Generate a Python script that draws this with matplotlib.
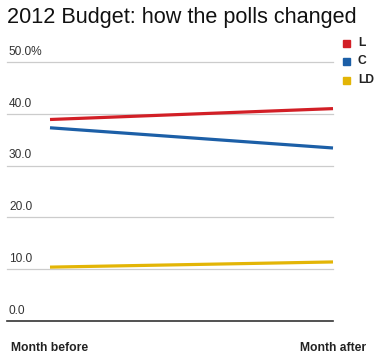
import matplotlib
matplotlib.use("Agg")
import matplotlib.pyplot as plt
import matplotlib.transforms as mtransforms

plt.rcParams["font.family"] = ["Liberation Sans", "DejaVu Sans"]

# Poll data (percent)
periods = ["Month before", "Month after"]
parties = ["L", "C", "LD"]
colors = ["#d21f26", "#1c5fa7", "#e3b506"]
values = {
    "L": [38.9, 41.0],
    "C": [37.3, 33.4],
    "LD": [10.4, 11.4],
}
yticks = [0, 10, 20, 30, 40, 50]
ytick_labels = ["0.0", "10.0", "20.0", "30.0", "40.0", "50.0%"]

W, H = 387, 355
fig = plt.figure(figsize=(W / 100, H / 100), dpi=100)

# axes placed in pixel terms: x 7..333, y 62..321 (from top)
ax = fig.add_axes([7 / W, (H - 321) / H, 326 / W, 259 / H])
ax.set_xlim(-43 / 283, 1.0)
ax.set_ylim(0, 50)
ax.axis("off")

xs = [0, 1]

# gridlines
for t in yticks:
    if t == 0:
        ax.axhline(t, color="#333333", lw=1.2, zorder=1, clip_on=False)
    else:
        ax.axhline(t, color="#cccccc", lw=0.9, zorder=1, clip_on=False)

# tick labels sit above each gridline
blend = mtransforms.blended_transform_factory(ax.transAxes, ax.transData)
for t, lab in zip(yticks, ytick_labels):
    ax.annotate(lab, xy=(0.006, t), xycoords=blend, xytext=(0, 3),
                textcoords="offset points", ha="left", va="bottom",
                fontsize=8.6, color="#333333")

for p, c in zip(parties, colors):
    ax.plot(xs, values[p], color=c, lw=2.3, solid_capstyle="butt",
            zorder=3, clip_on=False)

# category labels centred on the points
for x, lab in zip(xs, periods):
    ax.annotate(lab, xy=(x, 0), xycoords="data", xytext=(0, -15),
                textcoords="offset points", ha="center", va="top",
                fontsize=8.7, fontweight="bold", color="#222222")

# title
fig.text(7 / W, 1 - 17 / H, "2012 Budget: how the polls changed",
         ha="left", va="center", fontsize=15.6, color="#111111")

# legend
for i, (p, c) in enumerate(zip(parties, colors)):
    yc = 1 - (43 + i * 18.5) / H
    fig.patches.append(plt.Rectangle((343 / W, yc - 3.5 / H), 7 / W, 7 / H,
                                     transform=fig.transFigure, color=c,
                                     figure=fig))
    fig.text(358 / W, yc, p, ha="left", va="center", fontsize=8.7,
             fontweight="bold", color="#222222")

fig.savefig("out.png", dpi=100)
